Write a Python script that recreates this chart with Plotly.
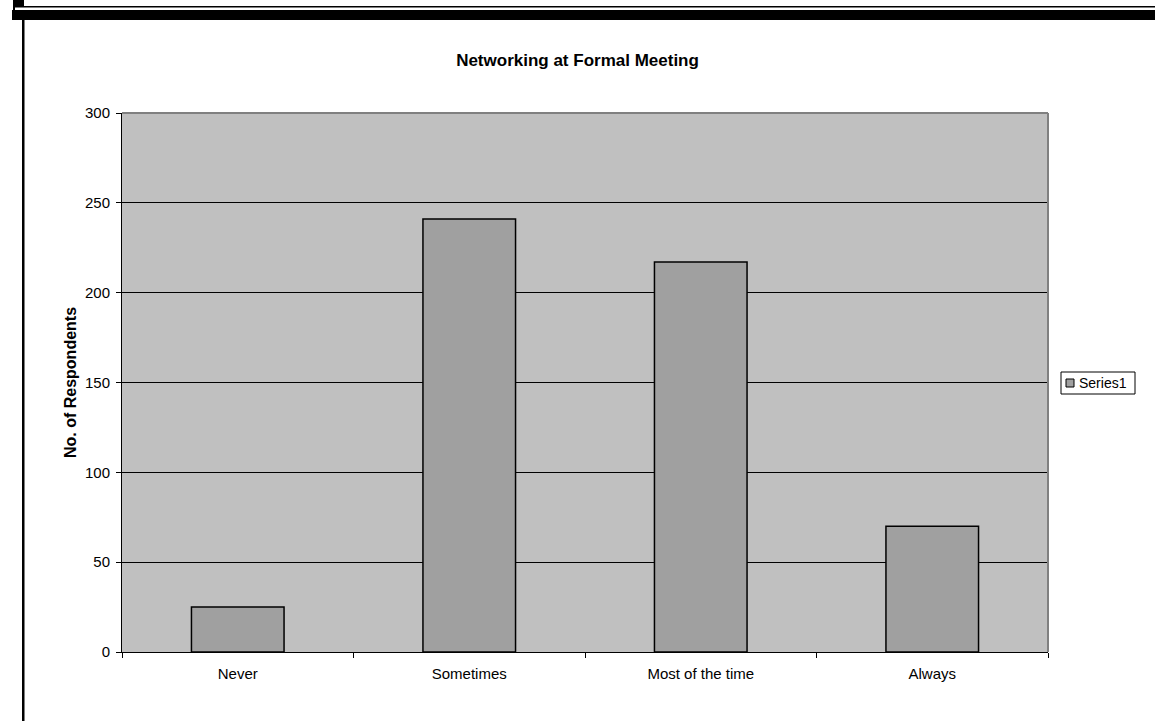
import plotly.graph_objects as go

categories = ["Never", "Sometimes", "Most of the time", "Always"]
respondents = [25, 241, 217, 70]
y_ticks = [0, 50, 100, 150, 200, 250, 300]
series_name = "Series1"

W, H = 1155, 721
ML, MR, MT, MB = 122, 107, 113, 69
PW, PH = W - ML - MR, H - MT - MB


def px(x):
    return (x - ML) / PW


def py(y):
    return (H - MB - y) / PH


FONT = "Liberation Sans, Arial, sans-serif"
BAR_COLOR = "#a0a0a0"

fig = go.Figure()
fig.add_trace(go.Bar(
    x=categories,
    y=respondents,
    name=series_name,
    marker=dict(color=BAR_COLOR, line=dict(color="#000000", width=1.5)),
    showlegend=False,
))

shapes = [
    # page frame around the chart
    dict(type="rect", x0=px(12), x1=px(1156), y0=py(10), y1=py(20),
         fillcolor="#000000", line_width=0),
    dict(type="rect", x0=px(14), x1=px(1156), y0=py(6), y1=py(7.5),
         fillcolor="#000000", line_width=0),
    dict(type="rect", x0=px(15), x1=px(24), y0=py(-1), y1=py(6),
         fillcolor="#000000", line_width=0),
    dict(type="rect", x0=px(13), x1=px(15), y0=py(-1), y1=py(10),
         fillcolor="#000000", line_width=0),
    dict(type="rect", x0=px(22), x1=px(24.5), y0=py(20), y1=py(722),
         fillcolor="#000000", line_width=0),
    # plot area border (grey top/right)
    dict(type="line", x0=0, x1=1, y0=1, y1=1,
         line=dict(color="#808080", width=2)),
    dict(type="line", x0=1, x1=1, y0=0, y1=1,
         line=dict(color="#808080", width=2)),
    # legend box and swatch
    dict(type="rect", x0=px(1061), x1=px(1135), y0=py(372), y1=py(394),
         fillcolor="#ffffff", line=dict(color="#000000", width=1)),
    dict(type="rect", x0=px(1066), x1=px(1074), y0=py(379), y1=py(387),
         fillcolor=BAR_COLOR, line=dict(color="#000000", width=1)),
]
for s in shapes:
    s["xref"] = "paper"
    s["yref"] = "paper"
    s["layer"] = "above"

fig.update_layout(
    width=W, height=H,
    margin=dict(l=ML, r=MR, t=MT, b=MB, pad=0, autoexpand=False),
    paper_bgcolor="#ffffff",
    plot_bgcolor="#c0c0c0",
    font=dict(family=FONT, size=15, color="#000000"),
    title=dict(text="<b>Networking at Formal Meeting</b>", x=px(585), xanchor="center",
               y=1 - 60 / H, yanchor="middle", font=dict(size=17)),
    bargap=0.6,
    showlegend=False,
    xaxis=dict(
        showline=True, linecolor="#000000", linewidth=1,
        ticks="outside", ticklen=5, tickcolor="#000000", tickson="boundaries",
        showgrid=False, tickfont=dict(size=15), ticklabelstandoff=8,
    ),
    yaxis=dict(
        range=[0, 300], tickvals=y_ticks,
        showline=True, linecolor="#000000", linewidth=1,
        ticks="outside", ticklen=5, tickcolor="#000000",
        showgrid=True, gridcolor="#000000", gridwidth=1,
        zeroline=False, tickfont=dict(size=15), ticklabelstandoff=3,
        title=dict(text="<b>No. of Respondents</b>", font=dict(size=16), standoff=4),
    ),
    shapes=shapes,
    annotations=[dict(text=series_name, xref="paper", yref="paper",
                      x=px(1077), y=py(383), xanchor="left", yanchor="middle",
                      showarrow=False, font=dict(size=14))],
)

fig.write_html("out.html")
